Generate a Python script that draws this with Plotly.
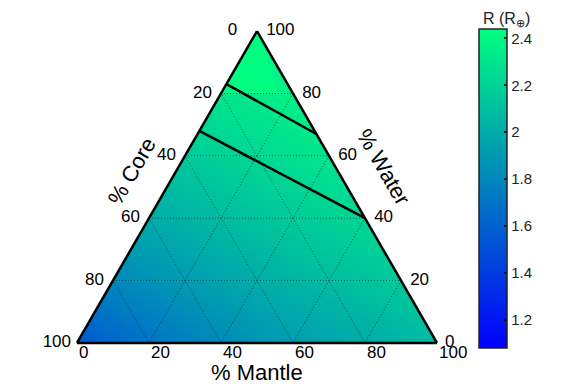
import math
import plotly.graph_objects as go

# ---------------- data ----------------
# Radius field sampled on a composition grid:
# rows = % water, columns = share of mantle in the rock part (mantle/(mantle+core))
WATER_ROWS = [0, 20, 40, 60, 80, 100]
MANTLE_SHARE = [0.0, 0.2, 0.4, 0.6, 0.8, 1.0]
R_GRID = [
    [1.55, 1.69, 1.81, 1.91, 1.99, 2.07],
    [1.80, 1.88, 1.96, 2.03, 2.09, 2.15],
    [1.99, 2.04, 2.09, 2.14, 2.18, 2.22],
    [2.15, 2.18, 2.21, 2.24, 2.27, 2.29],
    [2.29, 2.31, 2.32, 2.33, 2.35, 2.36],
    [2.42, 2.42, 2.42, 2.42, 2.42, 2.42],
]

# Black iso-lines (percent water, core, mantle at both ends)
UPPER_WATER, UPPER_CORE, UPPER_MANTLE = [83, 67], [17, 0], [0, 33]
LOWER_WATER, LOWER_CORE, LOWER_MANTLE = [68, 40], [32, 0], [0, 60]

# Axis ticks
CORE_TICKS = [0, 20, 40, 60, 80, 100]
WATER_TICKS = [0, 20, 40, 60, 80, 100]
MANTLE_TICKS = [0, 20, 40, 60, 80, 100]

CBAR_RANGE = [1.08, 2.44]
CBAR_TICKS = [1.2, 1.4, 1.6, 1.8, 2.0, 2.2, 2.4]
CBAR_LABELS = ["1.2", "1.4", "1.6", "1.8", "2", "2.2", "2.4"]

# ---------------- styling ----------------
W, H = 576, 384
OFF = 8  # the page body adds an 8px margin around the figure
FONT = "Liberation Sans, Arial, Helvetica, sans-serif"
WINTER = [[0.0, "rgb(0,0,255)"], [1.0, "rgb(0,255,128)"]]
TRI_LEFT, TRI_RIGHT, TRI_BOTTOM, TRI_TOP = 77 - OFF, 437 - OFF, 343 - OFF, 31 - OFF
SIDE = TRI_RIGHT - TRI_LEFT
dom_x = [TRI_LEFT / W, TRI_RIGHT / W]
dom_y = [1 - TRI_BOTTOM / H, 1 - TRI_TOP / H]
SQ3 = math.sqrt(3) / 2


def px(x):
    return (x - OFF) / W


def py(y):
    return 1 - (y - OFF) / H


# carpet (cartesian image of the ternary grid) for the smooth colour fill
ca, cb, cx, cy, cz = [], [], [], [], []
for i, w in enumerate(WATER_ROWS):
    for j, s in enumerate(MANTLE_SHARE):
        ca.append(w)
        cb.append(s)
        cx.append((1 - w / 100) * s + (w / 100) / 2)
        cy.append((w / 100) * SQ3)
        cz.append(R_GRID[i][j])

fig = go.Figure()

hidden_carpet_axis = dict(showgrid=False, showline=False, startline=False, endline=False,
                          showticklabels="none", smoothing=0, minorgridcount=0,
                          color="rgba(0,0,0,0)")
fig.add_trace(go.Carpet(carpet="tri", a=ca, b=cb, x=cx, y=cy,
                        aaxis=hidden_carpet_axis, baxis=hidden_carpet_axis))
fig.add_trace(go.Contourcarpet(
    carpet="tri", a=ca, b=cb, z=cz, autocontour=False,
    contours=dict(start=CBAR_RANGE[0], end=CBAR_RANGE[1], size=0.01, coloring="fill",
                  showlines=False),
    line=dict(width=0), colorscale=WINTER, zmin=CBAR_RANGE[0], zmax=CBAR_RANGE[1],
    zauto=False, showscale=False))

# colorbar holder
fig.add_trace(go.Scatter(
    x=[None], y=[None], mode="markers", showlegend=False, hoverinfo="skip",
    marker=dict(color=[CBAR_RANGE[0]], cmin=CBAR_RANGE[0], cmax=CBAR_RANGE[1],
                colorscale=WINTER, showscale=True,
                colorbar=dict(x=px(479), xanchor="left", xpad=0, y=py(29), yanchor="top",
                              ypad=0, len=319 / H, lenmode="fraction", thickness=28,
                              thicknessmode="pixels", outlinewidth=1.5, outlinecolor="#222",
                              tickmode="array", tickvals=CBAR_TICKS, ticktext=CBAR_LABELS,
                              ticks="inside", ticklen=3, tickwidth=2, tickcolor="#111",
                              tickfont=dict(size=15, color="#222", family=FONT)))))

# iso lines
for wa, co, ma in [(UPPER_WATER, UPPER_CORE, UPPER_MANTLE), (LOWER_WATER, LOWER_CORE, LOWER_MANTLE)]:
    fig.add_trace(go.Scatterternary(a=wa, b=co, c=ma, mode="lines", showlegend=False,
                                    hoverinfo="skip", line=dict(color="black", width=2.5)))

# tick labels along the edges
tick_font = dict(size=17, color="black", family=FONT)
left_sizes = [30, 13, 13, 13, 13, 8]
fig.add_trace(go.Scatterternary(
    a=[100 - v for v in CORE_TICKS], b=CORE_TICKS, c=[0] * len(CORE_TICKS),
    mode="markers+text", text=[str(v) for v in CORE_TICKS], textposition="middle left",
    marker=dict(size=left_sizes, opacity=0), textfont=tick_font, cliponaxis=False,
    showlegend=False, hoverinfo="skip"))
right_sizes = [11, 13, 13, 13, 13, 13]
fig.add_trace(go.Scatterternary(
    a=WATER_TICKS, b=[0] * len(WATER_TICKS), c=[100 - v for v in WATER_TICKS],
    mode="markers+text", text=[str(v) for v in WATER_TICKS], textposition="middle right",
    marker=dict(size=right_sizes, opacity=0), textfont=tick_font, cliponaxis=False,
    showlegend=False, hoverinfo="skip"))
fig.add_trace(go.Scatterternary(
    a=[0] * len(MANTLE_TICKS), b=[100 - v for v in MANTLE_TICKS], c=MANTLE_TICKS,
    mode="markers+text", text=[str(v) for v in MANTLE_TICKS], textposition="bottom right",
    marker=dict(size=1.6, opacity=0), textfont=tick_font, cliponaxis=False,
    showlegend=False, hoverinfo="skip"))

tern_axis = dict(min=0, tickmode="linear", tick0=0, dtick=20, showgrid=True,
                 gridcolor="rgba(20,20,20,0.6)", gridwidth=1, griddash="1px,2px",
                 showline=True, linecolor="black", linewidth=2.5,
                 showticklabels=False, ticks="", title=dict(text=""))

fig.update_layout(
    width=W, height=H, autosize=False,
    margin=dict(l=0, r=0, t=0, b=0, pad=0, autoexpand=False),
    paper_bgcolor="white", plot_bgcolor="white",
    showlegend=False,
    font=dict(family=FONT, color="black"),
    xaxis=dict(domain=dom_x, range=[0, 1], visible=False, fixedrange=True),
    yaxis=dict(domain=dom_y, range=[0, (TRI_BOTTOM - TRI_TOP) / SIDE], visible=False,
               fixedrange=True),
    ternary=dict(sum=100, domain=dict(x=dom_x, y=dom_y), bgcolor="rgba(0,0,0,0)",
                 aaxis=tern_axis, baxis=tern_axis, caxis=tern_axis),
    annotations=[
        dict(text="% Mantle", x=px(257), y=py(372), xref="paper", yref="paper",
             xanchor="center", yanchor="middle", showarrow=False,
             font=dict(size=22, family=FONT, color="black")),
        dict(text="% Core", x=px(132), y=py(172), xref="paper", yref="paper",
             xanchor="center", yanchor="middle", showarrow=False, textangle=-60,
             font=dict(size=22, family=FONT, color="black")),
        dict(text="% Water", x=px(384), y=py(167), xref="paper", yref="paper",
             xanchor="center", yanchor="middle", showarrow=False, textangle=60,
             font=dict(size=22, family=FONT, color="black")),
        dict(text="R (R<sub>⊕</sub>)", x=px(506), y=1, xref="paper", yref="paper",
             xanchor="center", yanchor="top", showarrow=False,
             font=dict(size=16, family=FONT, color="#222")),
    ],
)

fig.write_html("out.html")
